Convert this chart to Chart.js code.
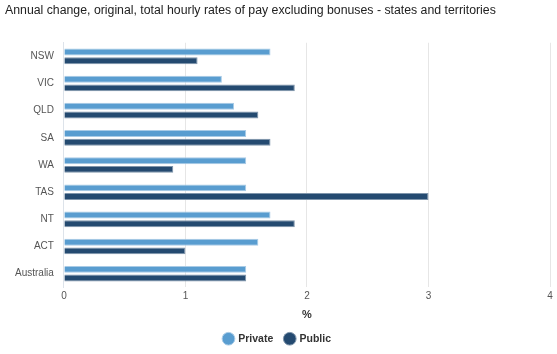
<!DOCTYPE html>
<html>
<head>
<meta charset="utf-8">
<script src="https://cdn.jsdelivr.net/npm/chart.js@4"></script>
<style>
html,body{margin:0;padding:0;background:#fff;}
#wrap{width:557px;height:354px;position:relative;}
</style>
</head>
<body>
<div id="wrap"><canvas id="c" width="557" height="354"></canvas></div>
<script>
const categories = ["NSW","VIC","QLD","SA","WA","TAS","NT","ACT","Australia"];
const privateValues = [1.7,1.3,1.4,1.5,1.5,1.5,1.7,1.6,1.5];
const publicValues = [1.1,1.9,1.6,1.7,0.9,3.0,1.9,1.0,1.5];
const seriesNames = ["Private","Public"];
const titleText = "Annual change, original, total hourly rates of pay excluding bonuses - states and territories";
const xAxisTitle = "%";

const FONT = "'Liberation Sans', Arial, sans-serif";
Chart.defaults.font.family = FONT;

new Chart(document.getElementById('c'), {
  type: 'bar',
  data: {
    labels: categories,
    datasets: [
      {label: seriesNames[0], data: privateValues, backgroundColor: '#599dd0', borderColor: '#a9cbe6', borderWidth: 1, categoryPercentage: 0.64, barPercentage: 0.8},
      {label: seriesNames[1], data: publicValues, backgroundColor: '#244a70', borderColor: '#7f95ab', borderWidth: 1, categoryPercentage: 0.64, barPercentage: 0.8}
    ]
  },
  options: {
    indexAxis: 'y',
    responsive: false,
    animation: false,
    layout: {padding: {left: 5, right: 7, top: 0, bottom: 0}},
    scales: {
      x: {
        min: 0, max: 4,
        ticks: {stepSize: 1, color: '#555', font: {size: 10}, padding: 3},
        grid: {color: '#e6e6e6', drawTicks: false},
        border: {display: false},
        title: {display: true, text: xAxisTitle, color: '#333', font: {size: 11, weight: 'bold'}, padding: {top: 3, bottom: 0}}
      },
      y: {
        ticks: {color: '#555', font: {size: 10}, padding: 10},
        grid: {display: false, drawTicks: false},
        border: {display: true, color: '#dde3ea'}
      }
    },
    plugins: {
      title: {display: true, text: titleText, align: 'start', color: '#222', font: {size: 12.3, weight: 'normal'}, padding: {top: 3, bottom: 25}},
      legend: {position: 'bottom', labels: {usePointStyle: true, pointStyle: 'circle', boxWidth: 9, boxHeight: 9, color: '#333', font: {size: 10.5, weight: 'bold'}, padding: 12}},
      tooltip: {enabled: false}
    }
  }
});
</script>
</body>
</html>
